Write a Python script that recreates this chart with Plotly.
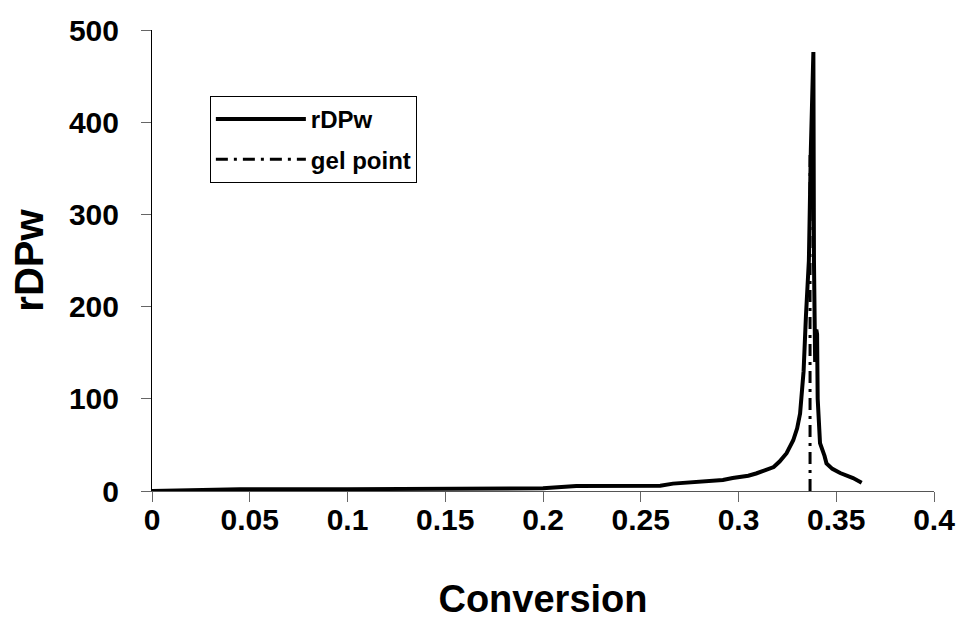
import plotly.graph_objects as go

# Data
conversion = [0, 0.02, 0.045, 0.1, 0.15, 0.2, 0.217, 0.26, 0.2665, 0.28, 0.292,
              0.297, 0.305, 0.309, 0.313, 0.318, 0.321, 0.3246, 0.328, 0.33,
              0.3315, 0.3333, 0.3345, 0.336,
              0.337, 0.3383, 0.3386, 0.3392, 0.3398, 0.3402, 0.3405, 0.341,
              0.3417, 0.344, 0.345, 0.348, 0.352, 0.3586, 0.363]
rdpw = [0, 0.5, 2, 2, 2, 3, 5.5, 5.7, 8, 10, 12,
        14, 16.5, 19, 22, 26, 32, 41, 55, 68,
        84, 130, 190, 250,
        370, 476, 250, 140, 175, 170, 100, 75,
        52, 38, 30, 24, 19.5, 14, 9]

gel_x = [0.3366, 0.3366]
gel_y = [0, 370]

x_ticks = [0, 0.05, 0.1, 0.15, 0.2, 0.25, 0.3, 0.35, 0.4]
x_labels = ["0", "0.05", "0.1", "0.15", "0.2", "0.25", "0.3", "0.35", "0.4"]
y_ticks = [0, 100, 200, 300, 400, 500]

FONT = "Arial, Liberation Sans, sans-serif"

fig = go.Figure()
fig.add_trace(go.Scatter(x=conversion, y=rdpw, mode="lines", name="rDPw",
                         line=dict(color="black", width=4), legendgroup="a"))
fig.add_trace(go.Scatter(x=gel_x, y=gel_y, mode="lines", name="gel point",
                         line=dict(color="black", width=3, dash="12px,6px,3px,6px"),
                         legendgroup="b"))

fig.update_layout(
    width=964, height=620,
    margin=dict(l=152, r=30, t=30, b=129),
    plot_bgcolor="white", paper_bgcolor="white",
    font=dict(family=FONT, color="black"),
    legend=dict(x=0.074, y=0.857, xanchor="left", yanchor="top",
                bordercolor="black", borderwidth=1, bgcolor="white",
                font=dict(size=24, family=FONT, weight="bold"),
                itemwidth=90, tracegroupgap=6, traceorder="grouped"),
    xaxis=dict(range=[0, 0.4], tickvals=x_ticks, ticktext=x_labels,
               automargin=False,
               showgrid=False, zeroline=False, showline=True, linecolor="#555555",
               linewidth=1, ticks="outside", ticklen=10, tickcolor="#666666",
               tickfont=dict(size=30, family=FONT, weight="bold"),
               ticklabelstandoff=-8,
               title=dict(text="Conversion", standoff=50,
                          font=dict(size=38, family=FONT, weight="bold"))),
    yaxis=dict(range=[0, 500], tickvals=y_ticks,
               automargin=False,
               showgrid=False, zeroline=False, showline=True, linecolor="black",
               linewidth=1, ticks="outside", ticklen=10, tickcolor="#666666",
               tickfont=dict(size=30, family=FONT, weight="bold"),
               ticklabelstandoff=16,
               title=dict(text="rDPw", standoff=12,
                          font=dict(size=40, family=FONT, weight="bold"))),
)

fig.write_html("out.html")
